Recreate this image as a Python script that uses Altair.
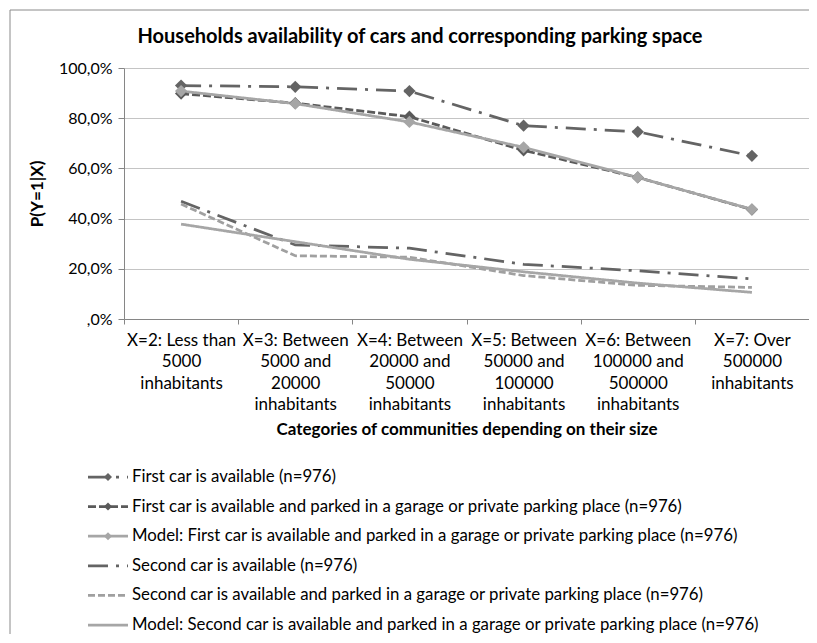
import altair as alt
import pandas as pd

title_text = "Households availability of cars and corresponding parking space"

categories = [
    "X=2: Less than|5000|inhabitants",
    "X=3: Between|5000 and|20000|inhabitants",
    "X=4: Between|20000 and|50000|inhabitants",
    "X=5: Between|50000 and|100000|inhabitants",
    "X=6: Between|100000 and|500000|inhabitants",
    "X=7: Over|500000|inhabitants",
]

series = [
    "First car is available (n=976)",
    "First car is available and parked in a garage or private parking place (n=976)",
    "Model: First car is available and parked in a garage or private parking place (n=976)",
    "Second car is available (n=976)",
    "Second car is available and parked in a garage or private parking place (n=976)",
    "Model: Second car is available and parked in a garage or private parking place (n=976)",
]

first_avail = [93.0, 92.5, 90.8, 77.0, 74.6, 65.0]
first_parked = [89.8, 86.0, 80.6, 67.2, 56.4, 43.6]
model_first = [90.8, 85.8, 78.5, 68.4, 56.4, 43.7]
second_avail = [46.9, 29.5, 28.2, 21.8, 19.2, 16.0]
second_parked = [45.8, 25.2, 24.6, 17.3, 13.4, 12.6]
model_second = [37.8, 30.8, 23.8, 18.8, 14.3, 10.6]

values = [first_avail, first_parked, model_first, second_avail, second_parked, model_second]
has_marker = [True, True, True, False, False, False]

colors = ["#646464", "#5a5a5a", "#a6a6a6", "#646464", "#a0a0a0", "#a6a6a6"]
dashes = [[20, 8, 3, 8], [8, 3], [1, 0], [20, 8, 3, 8], [7, 3], [1, 0]]

rows = []
for s, vals, m in zip(series, values, has_marker):
    for c, v in zip(categories, vals):
        rows.append({"series": s, "cat": c, "value": v, "marker": m})
df = pd.DataFrame(rows)

leg = pd.DataFrame({"series": series, "marker": has_marker})

FONT = "Lato"

color_scale = alt.Scale(domain=series, range=colors)
dash_scale = alt.Scale(domain=series, range=dashes)

x_enc = alt.X(
    "cat:N",
    sort=categories,
    bandPosition=0.5,
    scale=alt.Scale(type="band", paddingInner=0, paddingOuter=0),
    axis=alt.Axis(
        title="Categories of communities depending on their size",
        titleFontSize=17,
        titleFontWeight="bold",
        titleColor="#000000",
        titlePadding=9,
        labelExpr="split(datum.label, '|')",
        labelAngle=0,
        labelFontSize=17,
        labelColor="#000000",
        labelLineHeight=21.5,
        labelPadding=8,
        labelOverlap=False,
        tickBand="extent",
        ticks=True,
        tickSize=5,
        tickColor="#868686",
        domainColor="#868686",
        grid=False,
    ),
)

y_scale = alt.Scale(domain=[0, 100], nice=False)

lines = alt.Chart(df).mark_line(strokeWidth=2.75).encode(
    x=x_enc,
    y=alt.Y(
        "value:Q",
        scale=y_scale,
        axis=alt.Axis(
            title="P(Y=1|X)",
            titleFontSize=17,
            titleFontWeight="bold",
            titleColor="#000000",
            titlePadding=12,
            values=list(range(0, 101, 10)),
            labelExpr="datum.value == 0 ? ',0%' : datum.value + ',0%'",
            labelFontSize=16,
            labelColor="#000000",
            labelPadding=6,
            labelOverlap=False,
            tickSize=6,
            tickColor="#868686",
            domainColor="#868686",
            gridColor="#c4c4c4",
        ),
    ),
    color=alt.Color("series:N", scale=color_scale, legend=None),
    strokeDash=alt.StrokeDash("series:N", scale=dash_scale, legend=None),
    detail="series:N",
)

points = alt.Chart(df).transform_filter("datum.marker").mark_point(
    shape="diamond", filled=True, size=150, opacity=1
).encode(
    x=alt.X("cat:N", sort=categories, bandPosition=0.5),
    y=alt.Y("value:Q", scale=y_scale),
    color=alt.Color("series:N", scale=color_scale, legend=None),
)

main = alt.layer(lines, points)

leg_y = alt.Y(
    "series:N",
    sort=series,
    scale=alt.Scale(type="point", domain=series, range=[409, 557], padding=0),
    axis=None,
)

leg_rule = alt.Chart(leg).mark_rule(strokeWidth=2.75).encode(
    y=leg_y,
    x=alt.value(-36),
    x2=alt.value(4),
    color=alt.Color("series:N", scale=color_scale, legend=None),
    strokeDash=alt.StrokeDash("series:N", scale=dash_scale, legend=None),
)

leg_dia = alt.Chart(leg).transform_filter("datum.marker").mark_point(
    shape="diamond", filled=True, size=64, opacity=1
).encode(
    y=leg_y,
    x=alt.value(-16),
    color=alt.Color("series:N", scale=color_scale, legend=None),
)

leg_text = alt.Chart(leg).mark_text(
    align="left", baseline="middle", fontSize=16.8, font=FONT, color="#000000"
).encode(
    y=leg_y,
    x=alt.value(8),
    text="series:N",
)

title_mark = alt.Chart(pd.DataFrame({"title": [title_text]})).mark_text(
    align="center", baseline="alphabetic", fontSize=20, font=FONT,
    fontWeight="bold", color="#000000"
).encode(
    x=alt.value(296),
    y=alt.value(-25),
    text="title:N",
)

legend = alt.layer(leg_rule, leg_dia, leg_text, title_mark)

frame_df = pd.DataFrame({"frame": [0]})
frame_left = alt.Chart(frame_df).mark_rule(stroke="#8a8a8a", strokeWidth=1).encode(
    x=alt.value(-114),
    y=alt.value(-58),
    y2=alt.value(640),
)
frame_top = alt.Chart(frame_df).mark_rule(stroke="#8a8a8a", strokeWidth=1).encode(
    x=alt.value(-114),
    x2=alt.value(700),
    y=alt.value(-58),
)
frame = alt.layer(frame_left, frame_top)

chart = (
    alt.layer(frame, main, legend)
    .resolve_scale(y="independent")
    .properties(
        width=685,
        height=251,
        padding={"left": 116, "top": 60, "right": 0, "bottom": 315},
        autosize=alt.AutoSizeParams(type="none"),
    )
    .configure(font=FONT)
    .configure_view(stroke=None)
)

chart.save("out.html", embed_options={"renderer": "svg", "actions": False})
